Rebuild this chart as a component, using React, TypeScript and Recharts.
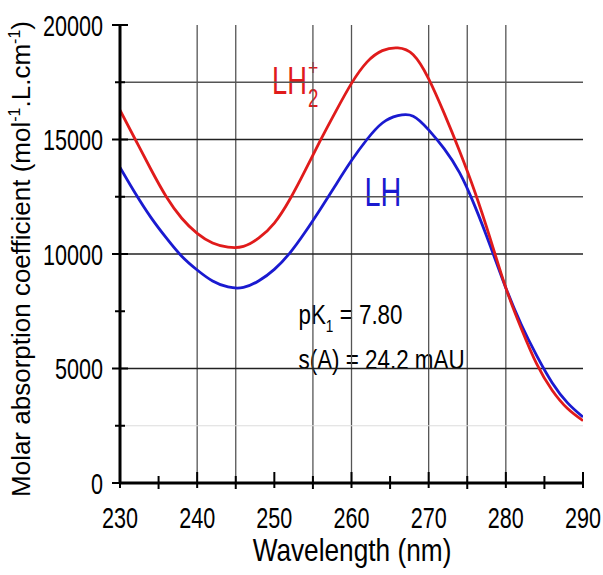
import React from 'react';
import { ComposedChart, Line, XAxis, YAxis, ReferenceLine, ReferenceArea } from 'recharts';

const wavelengths = [230, 232, 234, 236, 238, 240, 242, 244, 246, 248, 250, 252, 254, 256, 258, 260, 262, 264, 266, 268, 270, 272, 274, 276, 278, 280, 282, 284, 286, 288, 290];
const lh2Values = [16280, 14990, 13700, 12500, 11560, 10900, 10480, 10300, 10330, 10700, 11350, 12380, 13650, 14980, 16250, 17450, 18380, 18880, 19000, 18700, 17650, 16150, 14500, 12700, 10650, 8520, 6750, 5200, 4050, 3250, 2720];
const lhValues = [13780, 12640, 11600, 10700, 9900, 9300, 8820, 8560, 8540, 8830, 9330, 10040, 10960, 11980, 13040, 14080, 15000, 15720, 16040, 16020, 15420, 14600, 13550, 12080, 10340, 8520, 6920, 5560, 4380, 3500, 2880];

const xTicks = [230, 235, 240, 245, 250, 255, 260, 265, 270, 275, 280, 285, 290];
const yTicks = [0, 2500, 5000, 7500, 10000, 12500, 15000, 17500, 20000];
const verticalGrid = [240, 245, 255, 260, 270, 275, 280];
const horizontalDark = [5000, 10000, 15000];
const horizontalMid = [12500, 17500];
const horizontalLight = [2500];

const statsBox = { x1: 249.5, x2: 279.2, y1: 4070, y2: 8780 };
const lh2Box = { x1: 248.8, x2: 257.0, y1: 16100, y2: 19110 };
const lhBox = { x1: 260.9, x2: 267.0, y1: 11920, y2: 13440 };

const data = wavelengths.map((w, i) => ({ w, lh2: lh2Values[i], lh: lhValues[i] }));

const FONT = "'Liberation Sans', Arial, sans-serif";
const RED = '#e01b1b';
const BLUE = '#1a1ad0';

function SText(props: any) {
  const { x, y, sx = 1, size, anchor = 'start', fill = '#000', children } = props;
  return (
    <text transform={`translate(${x},${y}) scale(${sx},1)`} x={0} y={0} fontSize={size} fontFamily={FONT} textAnchor={anchor} fill={fill}>
      {children}
    </text>
  );
}

const BottomTick = (props: any) => {
  const { x, y, payload } = props;
  const v = payload.value;
  const major = v % 10 === 0;
  return (
    <g>
      <line x1={x} x2={x} y1={y - (major ? 11 : 7)} y2={y + (major ? 5 : 6)} stroke="#000" strokeWidth={2} />
      {major && <SText x={x} y={y + 45} sx={0.72} size={30} anchor="middle">{v}</SText>}
    </g>
  );
};

const TopTick = (props: any) => {
  const { x, y, payload } = props;
  const v = payload.value;
  const major = v % 10 === 0;
  return <line x1={x} x2={x} y1={y} y2={y + (major ? 12 : 7)} stroke="#000" strokeWidth={2} />;
};

const LeftTick = (props: any) => {
  const { x, y, payload } = props;
  const v = payload.value;
  const major = v % 5000 === 0;
  return (
    <g>
      <line x1={x - (major ? 8 : 5)} x2={x + (major ? 8 : 5)} y1={y} y2={y} stroke="#000" strokeWidth={2} />
      {major && <SText x={x - 17} y={y + 10.5} sx={0.72} size={30} anchor="end">{v}</SText>}
    </g>
  );
};

const RightTick = (props: any) => {
  const { x, y, payload } = props;
  const v = payload.value;
  const major = v % 5000 === 0;
  return <line x1={x - (major ? 9 : 5)} x2={x} y1={y} y2={y} stroke="#000" strokeWidth={2} />;
};

const YTitle = () => (
  <text transform="translate(30,259) rotate(-90)" x={0} y={0} textAnchor="middle" fontSize={26} fontFamily={FONT} fill="#000">
    Molar absorption coefficient (mol
    <tspan dy={-10} fontSize={16}>-1</tspan>
    <tspan dy={10}>.L.cm</tspan>
    <tspan dy={-10} fontSize={16}>-1</tspan>
    <tspan dy={10}>)</tspan>
  </text>
);

const XTitle = () => (
  <SText x={352} y={561} sx={0.82} size={32} anchor="middle">Wavelength (nm)</SText>
);

const StatsLabel = (p: any) => {
  const vb = p.viewBox || p;
  const x = vb.x + 28;
  const y = vb.y;
  return (
    <g>
      <text transform={`translate(${x},${y + 42}) scale(0.8,1)`} x={0} y={0} fontSize={28} fontFamily={FONT} fill="#000">
        pK<tspan dy={8} fontSize={17}>1</tspan><tspan dy={-8}> = 7.80</tspan>
      </text>
      <SText x={x} y={y + 87} sx={0.8} size={28}>s(A) = 24.2 mAU</SText>
    </g>
  );
};

const Lh2Label = (p: any) => {
  const vb = p.viewBox || p;
  const x = vb.x + 7;
  const y = vb.y + 49;
  const w = 1.278 * 38 * 0.72;
  return (
    <g>
      <SText x={x} y={y} sx={0.72} size={38} fill={RED}>LH</SText>
      <SText x={x + w + 1} y={y + 13} sx={0.72} size={26} fill={RED}>2</SText>
      <SText x={x + w + 1} y={y - 19} sx={0.8} size={22} fill={RED}>+</SText>
    </g>
  );
};

const LhLabel = (p: any) => {
  const vb = p.viewBox || p;
  return <SText x={vb.x + 6} y={vb.y + 31} sx={0.72} size={40} fill={BLUE}>LH</SText>;
};

export default function App() {
  return (
    <div style={{ position: 'absolute', left: 0, top: 0 }}>
      <ComposedChart width={603} height={575} data={data} margin={{ top: 25, right: 20, bottom: 32, left: 0 }}>
        <XAxis
          xAxisId="b"
          dataKey="w"
          type="number"
          domain={[230, 290]}
          ticks={xTicks}
          interval={0}
          orientation="bottom"
          height={60}
          tickSize={0}
          tickMargin={0}
          tickLine={false}
          tick={<BottomTick />}
          axisLine={{ stroke: '#000', strokeWidth: 3 }}
          label={() => <XTitle />}
          allowDataOverflow
        />
        <XAxis
          xAxisId="t"
          dataKey="w"
          type="number"
          domain={[230, 290]}
          ticks={xTicks}
          interval={0}
          orientation="top"
          height={0}
          tickSize={0}
          tickMargin={0}
          tickLine={false}
          tick={<TopTick />}
          axisLine={{ stroke: '#000', strokeWidth: 3 }}
          allowDataOverflow
        />
        <YAxis
          yAxisId="l"
          type="number"
          domain={[0, 20000]}
          ticks={yTicks}
          interval={0}
          orientation="left"
          width={120}
          tickSize={0}
          tickMargin={0}
          tickLine={false}
          tick={<LeftTick />}
          axisLine={{ stroke: '#000', strokeWidth: 3 }}
          label={() => <YTitle />}
          allowDataOverflow
        />
        <YAxis
          yAxisId="r"
          type="number"
          domain={[0, 20000]}
          ticks={yTicks}
          interval={0}
          orientation="right"
          width={0}
          tickSize={0}
          tickMargin={0}
          tickLine={false}
          tick={<RightTick />}
          axisLine={{ stroke: '#333', strokeWidth: 1.5 }}
          allowDataOverflow
        />
        {verticalGrid.map((v) => (
          <ReferenceLine key={'vx' + v} xAxisId="b" yAxisId="l" x={v} stroke="#555" strokeWidth={1.3} />
        ))}
        {horizontalDark.map((v) => (
          <ReferenceLine key={'hd' + v} xAxisId="b" yAxisId="l" y={v} stroke="#222" strokeWidth={1.3} />
        ))}
        {horizontalMid.map((v) => (
          <ReferenceLine key={'hm' + v} xAxisId="b" yAxisId="l" y={v} stroke="#555" strokeWidth={1.3} />
        ))}
        {horizontalLight.map((v) => (
          <ReferenceLine key={'hl' + v} xAxisId="b" yAxisId="l" y={v} stroke="#dcdcdc" strokeWidth={1.2} />
        ))}
        <ReferenceArea xAxisId="b" yAxisId="l" x1={statsBox.x1} x2={statsBox.x2} y1={statsBox.y1} y2={statsBox.y2} fill="#fff" fillOpacity={1} stroke="none" label={(p: any) => <StatsLabel {...p} />} />
        <ReferenceArea xAxisId="b" yAxisId="l" x1={lh2Box.x1} x2={lh2Box.x2} y1={lh2Box.y1} y2={lh2Box.y2} fill="#fff" fillOpacity={1} stroke="none" label={(p: any) => <Lh2Label {...p} />} />
        <ReferenceArea xAxisId="b" yAxisId="l" x1={lhBox.x1} x2={lhBox.x2} y1={lhBox.y1} y2={lhBox.y2} fill="#fff" fillOpacity={1} stroke="none" label={(p: any) => <LhLabel {...p} />} />
        <Line xAxisId="b" yAxisId="l" type="natural" dataKey="lh" stroke={BLUE} strokeWidth={2.8} dot={false} isAnimationActive={false} />
        <Line xAxisId="b" yAxisId="l" type="natural" dataKey="lh2" stroke={RED} strokeWidth={2.8} dot={false} isAnimationActive={false} />
      </ComposedChart>
    </div>
  );
}
